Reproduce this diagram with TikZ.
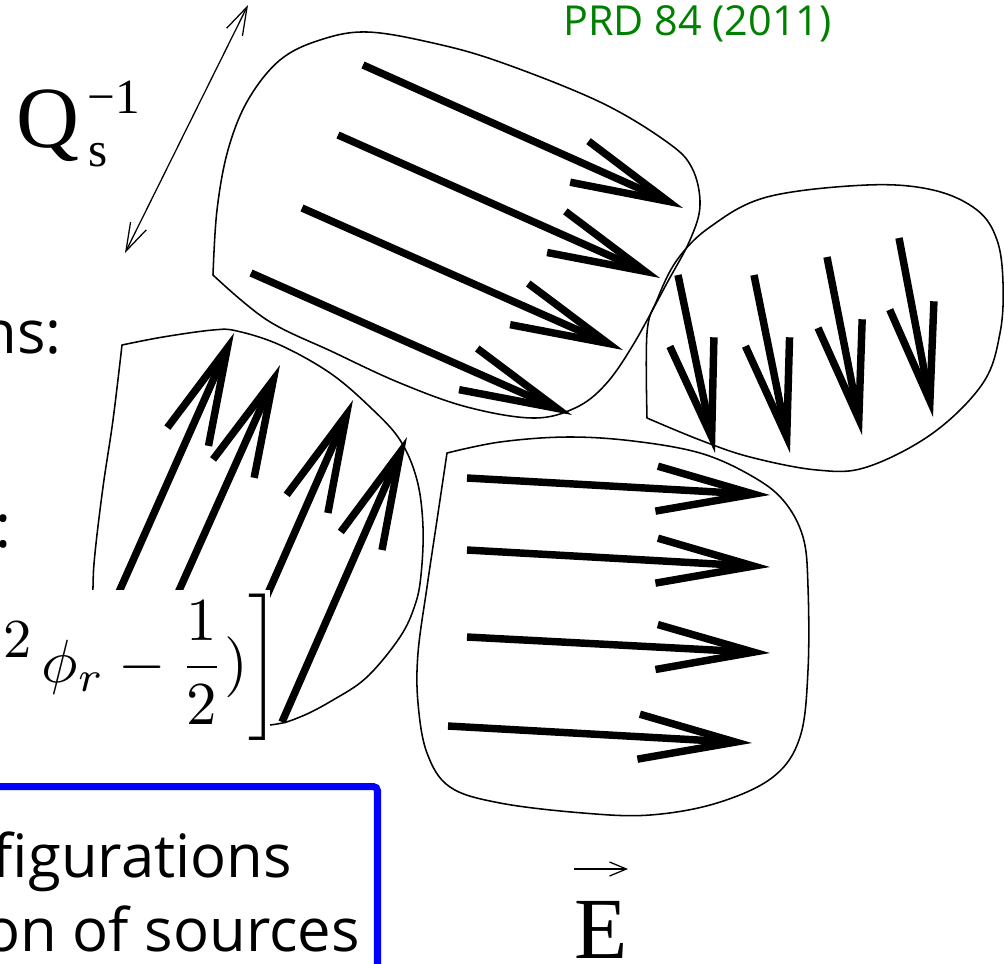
\documentclass[tikz,border=0pt]{standalone}
\usepackage{graphicx}
\usepackage{fontspec}
\setsansfont{Open Sans}
\newfontfamily\timesfont{Liberation Serif}
\usepackage{xcolor}
\definecolor{prdgreen}{RGB}{0,128,0}
\usetikzlibrary{
  arrows.meta,
  positioning
}

\begin{document}
\begin{tikzpicture}[x=0.025cm, y=-0.025cm,
    cell/.style={line width=1.1pt, line join=round},
    field/.style={line width=5.3pt, -{Straight Barb[length=69pt, width=32pt, sharp]}},
    ruler/.style={line width=0.9pt, {Straight Barb[length=20pt, width=12.5pt]}-{Straight Barb[length=20pt, width=12.5pt]}},
    big/.style={font=\sffamily\fontsize{42.5}{50}\selectfont, inner sep=0pt},
    serifbig/.style={font=\timesfont\fontsize{62}{70}\selectfont, inner sep=0pt},
    serifsmall/.style={font=\timesfont\fontsize{35}{40}\selectfont, inner sep=0pt}]

\useasboundingbox (0,0) rectangle (1004,963);
\clip (0,0) rectangle (1004,963);

% Domain outlines
\draw[cell] plot[smooth, tension=0.6] coordinates {
    (213,275) (267,320) (333,352) (400,383) (467,407) (533,418) (575,408)
    (605,385) (633,345) (667,283) (690,240) (700,205) (692,168) (667,142)
    (600,102) (500,62) (433,43) (367,32) (320,40) (280,60) (248,100)
    (228,150) (217,210) (213,275)} -- cycle;
\draw[cell] plot[smooth, tension=0.6] coordinates {
    (647,418) (647,333) (657,300) (677,260) (710,227) (767,197) (867,185)
    (933,190) (977,210) (997,240) (1003,283) (1000,333) (983,383) (933,433)
    (867,467) (817,470) (750,457) (700,440) (647,418)} -- cycle;
\draw[cell] plot[smooth, tension=0.6] coordinates {
    (122,345) (163,337) (213,330) (237,331) (280,345) (330,373) (370,407)
    (400,440) (417,480) (423,527) (421,575) (415,605) (400,637) (367,677)
    (333,700) (300,717) (270,725) (200,730) (120,700) (93,640) (93,587)
    (95,553) (103,487) (113,420) (122,345)} -- cycle;
\draw[cell] plot[smooth, tension=0.6] coordinates {
    (447,453) (500,442) (567,437) (633,441) (700,453) (750,475) (783,500)
    (803,537) (808,587) (808,670) (800,737) (773,777) (717,803) (650,815)
    (583,813) (500,803) (450,787) (427,753) (418,703) (418,653) (427,587)
    (437,520) (447,453)} -- cycle;

% Field arrows, one domain at a time
\foreach \sx/\sy/\tx/\ty in {363/65/683/208, 338/135/660/278, 302/208/623/350, 251/273/572/415}
    \draw[field] (\sx,\sy) -- (\tx,\ty);
\foreach \sx/\sy/\tx/\ty in {678/275/715/453, 754/275/790/453, 827/257/862/435, 899/238/933/417}
    \draw[field] (\sx,\sy) -- (\tx,\ty);
\foreach \sx/\sy/\tx/\ty in {71/700/234/333, 130/700/280/365, 221/700/353/400, 282/722/407/437}
    \draw[field] (\sx,\sy) -- (\tx,\ty);
\foreach \sx/\sy/\tx/\ty in {467/478/770/495, 467/550/770/567, 467/637/770/653, 448/726/752/743}
    \draw[field] (\sx,\sy) -- (\tx,\ty);

% Size of a domain
\coordinate (rulerlo) at (125,253);
\coordinate (rulerhi) at (248,5);
\draw[ruler] (rulerlo) -- (rulerhi);

\node (qmain) [serifbig, anchor=base west] at (16,147) {Q};
\node (qsub) [serifsmall, anchor=base west] at (88,166) {s};
\node (qsup) [serifsmall, anchor=base west] at (87,113) {−1};

\node (efield) [serifbig, anchor=base west] at (574,958) {E};
\coordinate (evecl) at (574,869);
\coordinate (evecr) at (628,869);
\draw[line width=0.9pt, -{Straight Barb[length=12pt, width=10pt]}] (evecl) -- (evecr);

\node (prd) [anchor=base west, inner sep=0pt, text=prdgreen,
    font=\sffamily\fontsize{29.4}{34}\selectfont] at (563,35) {PRD 84 (2011)};

% Formula strip over the lower left domain
\fill[white] (-5,590) rectangle (270,748);
\node (frm) [inner sep=0pt, anchor=east] at (281,667)
    {\scalebox{4.34}{$\displaystyle {}^{\mbox{\small 2}}\mkern2mu\phi_r-\frac{1}{2})\bigg]$}};

\node (nscol) [big, anchor=base east] at (62,353) {ns:};
\node (colon) [big, anchor=base east] at (12,547) {:};

% Blue box
\node (srcbox) [draw=blue, line width=5pt, rounded corners=3pt, anchor=north east,
    minimum width=320pt, minimum height=200pt] at (381,783) {};
\node (cfgline) [big, anchor=base east] at (292,877) {figurations};
\node (srcline) [big, anchor=base east] at (360,951) {on of sources};

\end{tikzpicture}
\end{document}
